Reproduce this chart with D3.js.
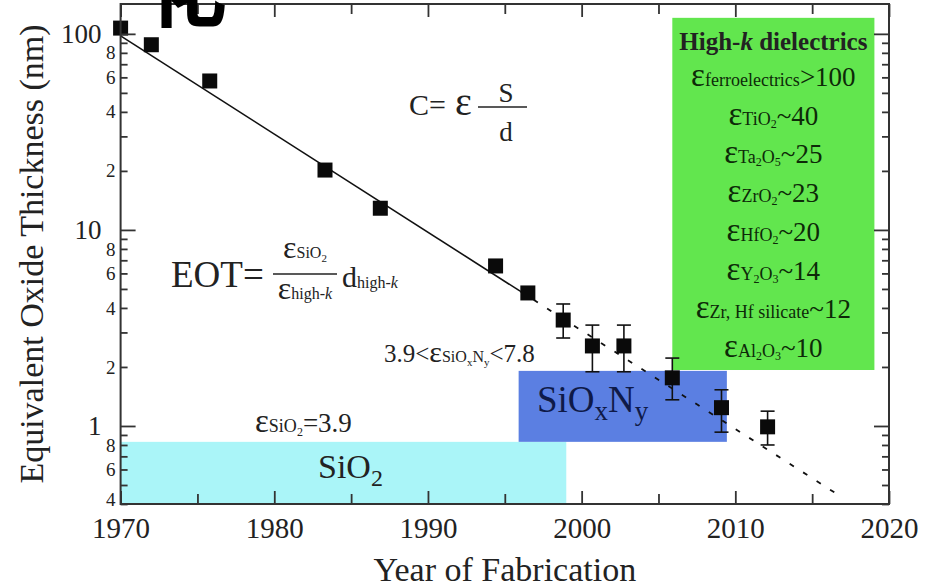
<!DOCTYPE html>
<html><head><meta charset="utf-8">
<script src="https://cdn.jsdelivr.net/npm/d3@7"></script>
<style>
body{margin:0;background:#fff}
svg{display:block}
text{font-family:"Liberation Serif","Times New Roman",serif;fill:#222;white-space:pre}
</style>
</head><body><svg id="c" width="927" height="587"></svg>
<script>
// ---- data ----
const years   = [1970, 1972, 1975.8, 1983.3, 1986.9, 1994.4, 1996.5, 1998.8, 2000.7, 2002.75, 2005.9, 2009.1, 2012.1];
const eot     = [107, 88, 57.5, 20.2, 12.9, 6.55, 4.77, 3.47, 2.56, 2.56, 1.76, 1.24, 0.99];
const errHigh = [null, null, null, null, null, null, null, 4.19, 3.27, 3.27, 2.22, 1.53, 1.19];
const errLow  = [null, null, null, null, null, null, null, 2.81, 1.89, 1.89, 1.36, 0.93, 0.80];
const fitSolidYears  = [1970, 1996];
const fitSolidValues = [97.7, 4.87];
const fitDashYears   = [1996, 2016.8];
const fitDashValues  = [4.87, 0.44];
const regionNames = ["SiO2", "SiOxNy", "High-k"];
const regionX0 = [1970, 1995.9, 2005.9];
const regionX1 = [1999, 2009.45, 2019.05];
const regionY0 = [0.4, 0.83, 1.93];
const regionY1 = [0.83, 1.91, 120.7];
const regionColors = ["#aaf5f8", "#5b7fe2", "#62e64e"];
const xTickLabels = ["1970", "1980", "1990", "2000", "2010", "2020"];
const xMinorTicks = [1975, 1985, 1995, 2005, 2015];
const yMajorTicks = [1, 10, 100];
const yMajorLabels = ["1", "10", "100"];
const yLabeledDigits = [2, 4, 6, 8];
const dielectricNames  = ["ferroelectrics", "TiO_2", "Ta_2O_5", "ZrO_2", "HfO_2", "Y_2O_3", "Zr, Hf silicate", "Al_2O_3"];
const dielectricValues = [">100", "~40", "~25", "~23", "~20", "~14", "~12", "~10"];

// ---- setup ----
const svg = d3.select("#c");
const x = d3.scaleLinear([1970, 2020], [120.6, 889]);
const y = d3.scaleLog([0.4, 142], [504, 4]);
const axisColor = "#333";

// regions
svg.append("g").selectAll("rect").data(regionNames).join("rect")
  .attr("x", (d, i) => x(regionX0[i]))
  .attr("y", (d, i) => y(regionY1[i]))
  .attr("width", (d, i) => x(regionX1[i]) - x(regionX0[i]))
  .attr("height", (d, i) => y(regionY0[i]) - y(regionY1[i]))
  .attr("fill", (d, i) => regionColors[i]);

// fit lines
const line = d3.line().x(d => x(d[0])).y(d => y(d[1]));
svg.append("path").datum(fitSolidYears.map((v, i) => [v, fitSolidValues[i]]))
  .attr("d", line).attr("fill", "none").attr("stroke", "#111").attr("stroke-width", 1.6);
svg.append("path").datum(fitDashYears.map((v, i) => [v, fitDashValues[i]]))
  .attr("d", line).attr("fill", "none").attr("stroke", "#111").attr("stroke-width", 1.8)
  .attr("stroke-dasharray", "5,11");

// error bars
const eg = svg.append("g").attr("stroke", "#111").attr("stroke-width", 1.6);
years.forEach((yr, i) => {
  if (errHigh[i] == null) return;
  const cx = x(yr);
  eg.append("line").attr("x1", cx).attr("x2", cx).attr("y1", y(errHigh[i])).attr("y2", y(errLow[i]));
  [errHigh[i], errLow[i]].forEach(v => eg.append("line").attr("x1", cx - 7).attr("x2", cx + 7).attr("y1", y(v)).attr("y2", y(v)));
});

// squares
const sq = 15;
svg.append("g").selectAll("rect").data(years).join("rect")
  .attr("x", d => x(d) - sq / 2).attr("y", (d, i) => y(eot[i]) - sq / 2)
  .attr("width", sq).attr("height", sq).attr("fill", "#0a0a0a");

// ---- axes ----
function styleAxis(g) {
  g.select(".domain").remove();
  g.selectAll("line").attr("stroke", axisColor).attr("stroke-width", 1.8);
  g.selectAll("text").attr("fill", "#2a2a2a").style("font-family", '"Liberation Serif", serif');
}
const allY = y.ticks();
const yMinor = allY.filter(v => !yMajorTicks.some(m => Math.abs(m - v) < 1e-9));
const lead = v => Math.round(v / Math.pow(10, Math.floor(Math.log10(v) + 1e-9)));

// bottom
svg.append("g").attr("transform", "translate(0,504)")
  .call(d3.axisBottom(x).tickValues(xTickLabels.map(Number)).tickSize(-13).tickPadding(13).tickFormat((d, i) => xTickLabels[i]))
  .call(styleAxis).call(g => g.selectAll("text").style("font-size", "29px"));
svg.append("g").attr("transform", "translate(0,504)")
  .call(d3.axisBottom(x).tickValues(xMinorTicks).tickSize(-10).tickFormat(""))
  .call(styleAxis);
// top
svg.append("g").attr("transform", "translate(0,4)")
  .call(d3.axisTop(x).tickValues(xTickLabels.map(Number)).tickSize(-13).tickFormat(""))
  .call(styleAxis);
svg.append("g").attr("transform", "translate(0,4)")
  .call(d3.axisTop(x).tickValues(xMinorTicks).tickSize(-10).tickFormat(""))
  .call(styleAxis);
// left
svg.append("g").attr("transform", "translate(120.6,0)")
  .call(d3.axisLeft(y).tickValues(yMajorTicks).tickSize(-15).tickPadding(19).tickFormat((d, i) => yMajorLabels[i]))
  .call(styleAxis).call(g => g.selectAll("text").style("font-size", "27px"));
svg.append("g").attr("transform", "translate(120.6,0)")
  .call(d3.axisLeft(y).tickValues(yMinor).tickSize(-7).tickPadding(5)
    .tickFormat(d => yLabeledDigits.includes(lead(d)) ? String(lead(d)) : ""))
  .call(styleAxis).call(g => g.selectAll("text").style("font-size", "19px"))
  .call(g => g.selectAll("text").filter(d => Math.abs(d - 0.4) < 1e-9).attr("dy", "0.1em"));
// right
svg.append("g").attr("transform", "translate(889,0)")
  .call(d3.axisRight(y).tickValues(yMajorTicks).tickSize(-15).tickFormat(""))
  .call(styleAxis);
svg.append("g").attr("transform", "translate(889,0)")
  .call(d3.axisRight(y).tickValues(yMinor).tickSize(-7).tickFormat(""))
  .call(styleAxis);

// frame
svg.append("rect").attr("x", x(1970)).attr("y", y(142)).attr("width", x(2020) - x(1970)).attr("height", y(0.4) - y(142))
  .attr("fill", "none").attr("stroke", axisColor).attr("stroke-width", 2);

// axis titles
svg.append("text").attr("x", x(1995)).attr("y", 581).attr("text-anchor", "middle").style("font-size", "34px").text("Year of Fabrication");
svg.append("text").attr("transform", "translate(43,254) rotate(-90)").attr("text-anchor", "middle").style("font-size", "34px")
  .text("Equivalent Oxide Thickness (nm)");

// ---- rich text helper ----
function rich(x0, y0, anchor, parts, fill) {
  const t = svg.append("text").attr("x", x0).attr("y", y0).attr("text-anchor", anchor);
  if (fill) t.style("fill", fill);
  let cur = 0;
  parts.forEach(p => {
    const off = p.b || 0;
    const ts = t.append("tspan").attr("dy", off - cur).style("font-size", p.s + "px").text(p.t);
    if (p.w) ts.style("font-weight", p.w);
    if (p.i) ts.style("font-style", "italic");
    if (p.f) ts.style("fill", p.f);
    cur = off;
  });
  return t;
}
// chemical name with "_x" subscripts
function chem(name, size, base, subSize, subOff) {
  const out = [];
  const re = /_(\w)/g;
  let last = 0, m;
  while ((m = re.exec(name))) {
    if (m.index > last) out.push({t: name.slice(last, m.index), s: size, b: base});
    out.push({t: m[1], s: subSize, b: base + subOff});
    last = re.lastIndex;
  }
  if (last < name.length) out.push({t: name.slice(last), s: size, b: base});
  return out;
}

// C = eps S/d
rich(409, 115, "start", [{t: "C=", s: 30}]);
rich(455, 115, "start", [{t: "ε", s: 40}]);
svg.append("line").attr("x1", 478).attr("x2", 527).attr("y1", 107).attr("y2", 107).attr("stroke", "#222").attr("stroke-width", 1.4);
rich(506, 102, "middle", [{t: "S", s: 27}]);
rich(506, 141, "middle", [{t: "d", s: 27}]);

// EOT formula
rich(171, 287, "start", [{t: "EOT=", s: 37}]);
svg.append("line").attr("x1", 273).attr("x2", 337).attr("y1", 274).attr("y2", 274).attr("stroke", "#222").attr("stroke-width", 1.4);
rich(305, 258, "middle", [{t: "ε", s: 32}].concat(chem("SiO_2", 16, 0, 11, 4)));
rich(305, 299, "middle", [{t: "ε", s: 32}, {t: "high-", s: 16}, {t: "k", s: 16, i: true}]);
rich(342, 287, "start", [{t: "d", s: 30}, {t: "high-", s: 16, b: 1}, {t: "k", s: 16, b: 1, i: true}]);

// SiOxNy permittivity
rich(384, 362, "start", [{t: "3.9<", s: 25}, {t: "ε", s: 30}].concat(chem("SiO_xN_y", 16, 0, 11, 4), [{t: "<7.8", s: 25, b: 0}]));
// SiO2 permittivity
rich(255, 432, "start", [{t: "ε", s: 33}].concat(chem("SiO_2", 18, 0, 12, 4), [{t: "=3.9", s: 27, b: 0}]));

// region labels
rich(318, 478, "start", chem("SiO_2", 34, 0, 24, 8));
rich(537, 412, "start", chem("SiO_xN_y", 37, 0, 27, 8), "#0f1a48");

// High-k box
const bx = (x(regionX0[2]) + x(regionX1[2])) / 2;
rich(bx, 50, "middle", [{t: "High-", s: 25, w: 700}, {t: "k", s: 25, w: 700, i: true}, {t: " dielectrics", s: 25, w: 700}]);
dielectricNames.forEach((n, i) => {
  const by = 86 + i * 38.7;
  rich(bx, by, "middle", [{t: "ε", s: 33}].concat(chem(n, 18, 0, 12, 3), [{t: dielectricValues[i], s: 27, b: 0}]), "#0d2a08");
});

// stray CJK glyph cut at the top edge
svg.append("text").attr("x", 147).attr("y", 20).style("font-family", '"Noto Sans CJK SC", sans-serif')
  .style("font-weight", 700).style("font-size", "80px").style("fill", "#000").text("化");
</script>
</body></html>
